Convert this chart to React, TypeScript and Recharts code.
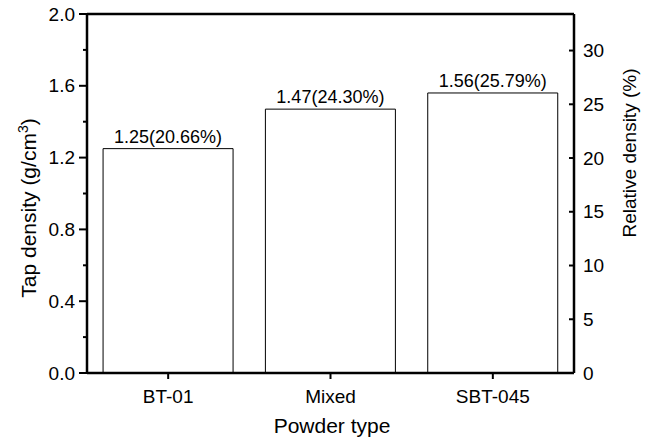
import { Bar, ComposedChart, LabelList, Line, ReferenceLine, XAxis, YAxis } from "recharts";

const categories = ["BT-01", "Mixed", "SBT-045"];
const tapDensity = [1.25, 1.47, 1.56];
const relativeDensity = [20.66, 24.3, 25.79];
const leftTicks = [0, 0.2, 0.4, 0.6, 0.8, 1.0, 1.2, 1.4, 1.6, 1.8, 2.0];
const rightTicks = [0, 5, 10, 15, 20, 25, 30];

const data = categories.map((name, i) => ({
  name,
  tap: tapDensity[i],
  rel: relativeDensity[i],
  label: `${tapDensity[i].toFixed(2)}(${relativeDensity[i].toFixed(2)}%)`,
}));

const FONT = '"Liberation Sans", Arial, Helvetica, sans-serif';
const AXIS = { stroke: "#000", strokeWidth: 2.5 };

function LeftTick({ x, y, payload }: any) {
  const major = Math.round(payload.value * 10) % 4 === 0;
  return (
    <g>
      <line x1={x} x2={x - (major ? 8 : 4)} y1={y} y2={y} stroke="#000" strokeWidth={2} />
      {major && (
        <text x={x - 12} y={y} textAnchor="end" dominantBaseline="central" fontSize={19} fontFamily={FONT} fill="#000">
          {payload.value.toFixed(1)}
        </text>
      )}
    </g>
  );
}

function RightTick({ x, y, payload }: any) {
  return (
    <g>
      <line x1={x} x2={x - 5} y1={y} y2={y} stroke="#000" strokeWidth={2} />
      <text x={x + 9} y={y} textAnchor="start" dominantBaseline="central" fontSize={19} fontFamily={FONT} fill="#000">
        {payload.value}
      </text>
    </g>
  );
}

function BottomTick({ x, y, payload }: any) {
  return (
    <g>
      <line x1={x} x2={x} y1={y} y2={y + 6} stroke="#000" strokeWidth={2} />
      <text x={x} y={y + 30} textAnchor="middle" fontSize={19} fontFamily={FONT} fill="#000">
        {payload.value}
      </text>
    </g>
  );
}

export default function App() {
  return (
    <div style={{ position: "absolute", left: 0, top: 0, background: "#fff" }}>
      <ComposedChart
        width={651}
        height={439}
        data={data}
        margin={{ top: 14, right: 0, bottom: 0, left: 0 }}
        barCategoryGap="9.9%"
      >
        <XAxis
          dataKey="name"
          height={66}
          axisLine={AXIS}
          tickLine={false}
          tickSize={0}
          tickMargin={0}
          tick={<BottomTick />}
          label={{
            content: () => (
              <text x={332} y={433} textAnchor="middle" fontSize={21} fontFamily={FONT} fill="#000">
                Powder type
              </text>
            ),
          }}
        />
        <YAxis
          yAxisId="left"
          width={87}
          domain={[0, 2]}
          ticks={leftTicks}
          interval={0}
          axisLine={AXIS}
          tickLine={false}
          tickSize={0}
          tickMargin={0}
          tick={<LeftTick />}
          label={{
            content: () => (
              <text x={36} y={208} transform="rotate(-90 36 208)" textAnchor="middle" fontSize={21} fontFamily={FONT} fill="#000">
                Tap density (g/cm<tspan dy={-8} fontSize={14}>3</tspan><tspan dy={8}>)</tspan>
              </text>
            ),
          }}
        />
        <YAxis
          yAxisId="right"
          orientation="right"
          width={77}
          domain={[0, 33.4]}
          ticks={rightTicks}
          interval={0}
          axisLine={AXIS}
          tickLine={false}
          tickSize={0}
          tickMargin={0}
          tick={<RightTick />}
          label={{
            content: () => (
              <text x={636} y={153} transform="rotate(-90 636 153)" textAnchor="middle" fontSize={19} fontFamily={FONT} fill="#000">
                Relative density (%)
              </text>
            ),
          }}
        />
        <ReferenceLine yAxisId="left" y={2} stroke="#000" strokeWidth={2.5} />
        <Bar yAxisId="left" dataKey="tap" fill="#fff" stroke="#000" strokeWidth={1} isAnimationActive={false}>
          <LabelList dataKey="label" position="top" offset={6} fontSize={18} fontFamily={FONT} fill="#000" />
        </Bar>
        <Line yAxisId="right" dataKey="rel" stroke="none" dot={false} activeDot={false} legendType="none" isAnimationActive={false} />
      </ComposedChart>
    </div>
  );
}
